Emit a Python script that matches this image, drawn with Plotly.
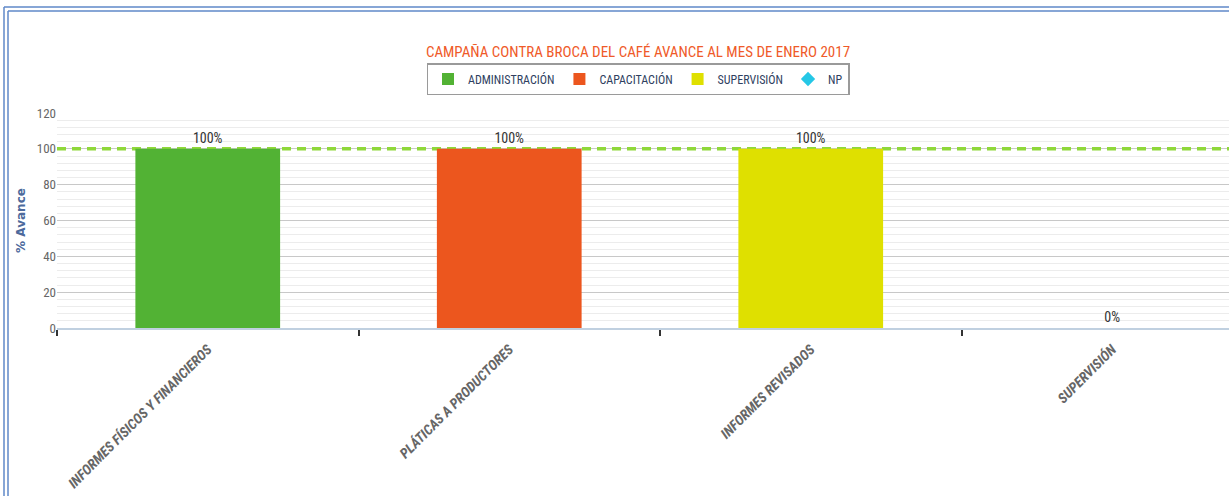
import plotly.graph_objects as go

categories = ["INFORMES FÍSICOS Y FINANCIEROS", "PLÁTICAS A PRODUCTORES", "INFORMES REVISADOS", "SUPERVISIÓN"]
admin_x = ["INFORMES FÍSICOS Y FINANCIEROS"]
admin_y = [100]
capac_x = ["PLÁTICAS A PRODUCTORES"]
capac_y = [100]
superv_x = ["INFORMES REVISADOS", "SUPERVISIÓN"]
superv_y = [100, 0]
np_x = categories
np_y = [None, None, None, None]
meta_value = 100

NARROW = "Roboto Condensed, Open Sans Condensed, Liberation Sans Narrow, sans-serif"

fig = go.Figure()

def pct(vals):
    return [f"{v}%" for v in vals]

# reference line (100 %) on the base subplot, so that bars are painted over it
fig.add_trace(go.Scatter(
    x=[0, 1], y=[meta_value, meta_value], xaxis="x", yaxis="y", mode="lines",
    line=dict(color="#8fd83a", width=3.5, dash="9px,6px"), showlegend=False, hoverinfo="skip",
))

for name, xs, ys, col in [
    ("ADMINISTRACIÓN", admin_x, admin_y, "#52b234"),
    ("CAPACITACIÓN", capac_x, capac_y, "#ec561e"),
    ("SUPERVISIÓN", superv_x, superv_y, "#dfe000"),
]:
    fig.add_trace(go.Bar(
        x=xs, y=ys, name=name, xaxis="x2", yaxis="y",
        marker=dict(color=col, line=dict(width=0)),
        width=0.48, offsetgroup="a",
        text=pct(ys), textposition="outside", cliponaxis=False,
        textfont=dict(family=NARROW, size=14, color="#333333"),
    ))

fig.add_trace(go.Scatter(
    x=np_x, y=np_y, name="NP", mode="markers", xaxis="x2", yaxis="y",
    marker=dict(symbol="diamond", color="#25c7e6", size=11),
))

# outer frame (double blue border)
L, W, T, H = 57, 1172, 113, 215
def px(xp):
    return (xp - L) / W
def py(yp):
    return (T + H - yp) / H
for xv in (4, 8):
    fig.add_shape(type="line", xref="paper", yref="paper", x0=px(xv), x1=px(xv), y0=py(xv + 3), y1=py(500),
                  line=dict(color="#5f88c8", width=1.5))
for yv in (7, 11):
    fig.add_shape(type="line", xref="paper", yref="paper", x0=px(yv - 3), x1=px(1235), y0=py(yv), y1=py(yv),
                  line=dict(color="#5f88c8", width=1.5))

fig.update_layout(
    width=1229, height=496,
    margin=dict(l=L, r=0, t=T, b=496 - T - H),
    paper_bgcolor="white", plot_bgcolor="white",
    barmode="overlay",
    title=dict(text="CAMPAÑA CONTRA BROCA DEL CAFÉ AVANCE AL MES DE ENERO 2017",
               x=px(638), xref="paper", xanchor="center", y=1 - 52 / 496, yanchor="middle",
               font=dict(family=NARROW, size=15, color="#ef5a29")),
    legend=dict(orientation="h", x=px(638), xanchor="center", y=py(63), yanchor="top",
                bgcolor="white", bordercolor="#9a9a9a", borderwidth=1.5,
                font=dict(family=NARROW, size=12, color="#2f3f5f"),
                traceorder="normal", itemwidth=30, tracegroupgap=0),
    showlegend=True,
    font=dict(family=NARROW),
    xaxis=dict(range=[0, 1], visible=False, showgrid=False, zeroline=False, fixedrange=True),
    xaxis2=dict(
        overlaying="x", side="bottom", anchor="y",
        type="category", categoryorder="array", categoryarray=categories,
        range=[-0.5, -0.5 + W / 301.5],
        tickson="boundaries", ticks="outside", ticklen=6, tickwidth=2, tickcolor="#333333",
        tickangle=-45, ticklabelstandoff=6,
        tickfont=dict(family=NARROW, size=14, color="#666666", weight="bold", style="italic"),
        showline=True, linecolor="#c0d0e0", linewidth=1.5,
        showgrid=False, zeroline=False,
    ),
    yaxis=dict(
        range=[0, 120], dtick=20, tick0=0,
        showgrid=True, gridcolor="#c8c8c8", gridwidth=1,
        minor=dict(dtick=4, showgrid=True, gridcolor="#ececec", gridwidth=1),
        tickfont=dict(family=NARROW, size=13, color="#666666"),
        zeroline=False,
        title=dict(text="% Avance", font=dict(family="DejaVu Sans, sans-serif", size=12, color="#4d6a9c", weight="bold"), standoff=8),
        ticks="", showline=False,
    ),
)

fig.write_html("out.html", config={"displayModeBar": False},
               post_script="document.body.style.margin='0';")
